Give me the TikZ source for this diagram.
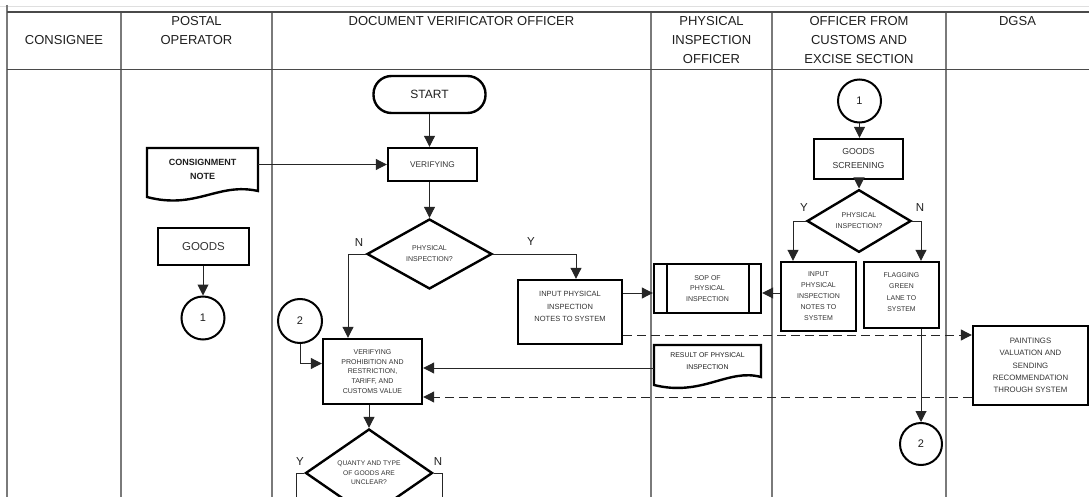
\documentclass[tikz,border=0pt]{standalone}
\usepackage{fontspec}
\setmainfont{Liberation Sans}
\usetikzlibrary{shapes.geometric,arrows.meta,calc}
\definecolor{txt}{HTML}{333333}
\definecolor{hdr}{HTML}{1E1E1E}
\definecolor{rulecol}{HTML}{7A7A7A}
\definecolor{hrule}{HTML}{4A4A4A}
\newcommand\fs[2]{\fontsize{#1}{#2}\selectfont}
\begin{document}
\begin{tikzpicture}[x=1pt,y=-1pt,
  fbox/.style={draw, line width=2.4pt, inner sep=0pt, align=center, text=txt},
  tbox/.style={inner sep=0pt, align=center, text=txt},
  fcirc/.style={draw, circle, line width=2pt, inner sep=0pt, text=hdr, font=\fs{11}{12}},
  fdiam/.style={draw, diamond, line width=2.4pt, inner sep=0pt, align=center, text=txt},
  conn/.style={line width=1pt, draw=black!85, -{Triangle[length=11pt,width=11pt]}},
  htext/.style={align=center, text=hdr, font=\fs{13}{19}, inner sep=0pt},
  yn/.style={text=hdr, font=\fs{11.5}{12}, inner sep=0pt},
  colline/.style={draw=rulecol, line width=1.1pt}
]
\useasboundingbox (0,0) rectangle (1089,497);
\clip (0,0) rectangle (1089,497);

% table frame
\draw[gray!25, line width=0.6pt] (0,6) -- (1089,6);
\draw[colline] (7,5) -- (7,497);
\foreach \cx in {121,272,651,772,946} \draw[colline] (\cx,12) -- (\cx,497);
\draw[hrule, line width=1.1pt] (7,12) -- (1089,12);
\draw[hrule, line width=1.1pt] (7,69.5) -- (1089,69.5);

% headers
\node[htext] (h1) at (64,40) {CONSIGNEE};
\node[htext] (h2) at (196.5,31) {POSTAL\\OPERATOR};
\node[htext] (h3) at (461.5,21.5) {DOCUMENT VERIFICATOR OFFICER};
\node[htext] (h4) at (711.5,40.5) {PHYSICAL\\INSPECTION\\OFFICER};
\node[htext] (h5) at (859,40.5) {OFFICER FROM\\CUSTOMS AND\\EXCISE SECTION};
\node[htext] (h6) at (1017.5,21.5) {DGSA};

% postal operator lane
\draw[line width=2.4pt] (147,148) -- (258,148) -- (258,191)
   .. controls (218,182) and (196,210) .. (147,197) -- cycle;
\node[tbox, minimum width=111pt, minimum height=36pt, font=\bfseries\fs{9}{14}, text=hdr] (consign) at (202.5,169) {CONSIGNMENT\\NOTE};
\node[fbox, minimum width=91pt, minimum height=37pt, font=\fs{11.5}{12}] (goods) at (203.5,246.5) {GOODS};
\node[fcirc, minimum size=43pt] (c1) at (203,318) {1};

% document verificator lane
\node[fbox, rounded corners=18pt, minimum width=112pt, minimum height=37pt, font=\fs{12}{13}, text=hdr] (start) at (429.5,94.5) {START};
\node[fbox, minimum width=89pt, minimum height=33pt, font=\fs{8.3}{10}] (verify) at (432.5,164.5) {VERIFYING};
\node[fdiam, minimum width=125pt, minimum height=70pt, font=\fs{7}{11}] (d1) at (429.5,254) {PHYSICAL\\INSPECTION?};
\node[fcirc, minimum size=44pt] (c2) at (300,321) {2};
\node[fbox, minimum width=99pt, minimum height=65pt, font=\fs{7}{9.7}] (vp) at (372.5,371.5) {VERIFYING\\PROHIBITION AND\\RESTRICTION,\\TARIFF, AND\\CUSTOMS VALUE};
\node[fdiam, minimum width=127pt, minimum height=88pt, font=\fs{6.7}{9.5}] (d2) at (369,473) {QUANTY AND TYPE\\OF GOODS ARE\\UNCLEAR?};
\node[fbox, minimum width=104pt, minimum height=64pt] (input1) at (570,312) {};
\node[tbox, font=\fs{7.5}{12.5}] (input1t) at (570,306.5) {INPUT PHYSICAL\\INSPECTION\\NOTES TO SYSTEM};

% physical inspection officer lane
\node[fbox, minimum width=107pt, minimum height=49pt, font=\fs{7}{10.7}] (sop) at (707.5,288.5) {SOP OF\\PHYSICAL\\INSPECTION};
\draw[line width=2.4pt] ([xshift=14pt]sop.north west) -- ([xshift=14pt]sop.south west);
\draw[line width=2.4pt] ([xshift=-13pt]sop.north east) -- ([xshift=-13pt]sop.south east);
\draw[line width=2.4pt] (654,345) -- (761,345) -- (761,377)
   .. controls (728,368) and (702,397) .. (654,385) -- cycle;
\node[tbox, minimum width=107pt, minimum height=32pt, font=\fs{6.9}{11.5}, text=hdr] (result) at (707.5,361) {RESULT OF PHYSICAL\\INSPECTION};

% customs and excise lane
\node[fcirc, minimum size=43pt] (c3) at (859.5,101) {1};
\node[fbox, minimum width=89pt, minimum height=40pt, font=\fs{8.7}{14}] (screen) at (858.5,159) {GOODS\\SCREENING};
\node[fdiam, minimum width=104pt, minimum height=48pt, font=\fs{7}{11}] (d3) at (859,221) {PHYSICAL\\INSPECTION?};
\node[fbox, minimum width=75pt, minimum height=69pt, font=\fs{7}{11}] (input2) at (818.5,296.5) {INPUT\\PHYSICAL\\INSPECTION\\NOTES TO\\SYSTEM};
\node[fbox, minimum width=75pt, minimum height=66pt] (flag) at (901.5,295) {};
\node[tbox, font=\fs{6.9}{11.3}] (flagt) at (901.5,292) {FLAGGING\\GREEN\\LANE TO\\SYSTEM};
\node[fcirc, minimum size=42pt] (c4) at (921,444) {2};

% DGSA lane
\node[fbox, minimum width=115pt, minimum height=79pt, font=\fs{7.8}{12.3}] (paint) at (1030.5,365.5) {PAINTINGS\\VALUATION AND\\SENDING\\RECOMMENDATION\\THROUGH SYSTEM};

% Y / N labels
\node[yn] (l1) at (359,243) {N};
\node[yn] (l2) at (531,242) {Y};
\node[yn] (l3) at (804,208) {Y};
\node[yn] (l4) at (920,208) {N};
\node[yn] (l5) at (300,462) {Y};
\node[yn] (l6) at (438,462) {N};

% connectors
\draw[conn] (start.south) -- (start.south |- verify.north);
\draw[conn] (verify.west -| consign.east) -- (verify.west);
\draw[conn] (verify.south -| d1.north) -- (d1.north);
\draw[conn] (goods.south -| c1.north) -- (c1.north);
\draw[conn] (d1.west) -| ([xshift=-24.5pt]vp.north);
\draw[conn] (d1.east) -| ([xshift=6pt]input1.north);
\draw[conn] (c2.south) |- ([yshift=8pt]vp.west);
\path ([yshift=19pt]input1.east) coordinate (i1a);
\draw[conn] (i1a) -- (i1a -| sop.west);
\path ([yshift=3.5pt]input2.west) coordinate (i2a);
\draw[conn] (i2a) -- (i2a -| sop.east);
\path ([yshift=3.5pt]vp.east) coordinate (vpa);
\draw[conn] (vpa -| result.west) -- (vpa);
\path ([yshift=-23pt]input1.east) coordinate (i1b);
\draw[conn, dash pattern=on 9pt off 5pt] (i1b) -- (i1b -| paint.west);
\path ([yshift=-31.5pt]paint.west) coordinate (pa);
\draw[conn, dash pattern=on 9pt off 5pt] (pa) -- (pa -| vp.east);
\draw[conn] (vp.south -| d2.north) -- (d2.north);
\coordinate (d2y) at (296,520);
\coordinate (d2n) at (442,508);
\draw[conn] (d2.west) -| (d2y);
\draw[conn] (d2.east) -| (d2n);
\draw[conn] (c3.south) -- (c3.south |- screen.north);
\draw[conn] (screen.south -| d3.north) -- (d3.north);
\draw[conn] (d3.west) -| ([xshift=-25.5pt]input2.north);
\draw[conn] (d3.east) -| (c4.north |- flag.north);
\draw[conn] (flag.south -| c4.north) -- (c4.north);
\end{tikzpicture}
\end{document}
